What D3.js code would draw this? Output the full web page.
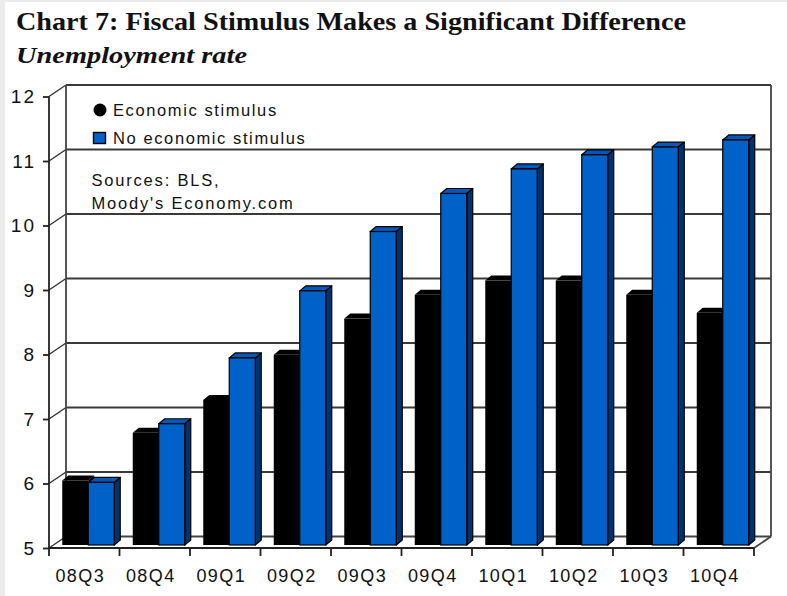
<!DOCTYPE html>
<html>
<head>
<meta charset="utf-8">
<script src="https://cdn.jsdelivr.net/npm/d3@7"></script>
<style>
  body { margin: 0; background: #fff; }
  svg { display: block; }
  .sans { font-family: "Liberation Sans", Arial, sans-serif; fill: #111; }
</style>
</head>
<body>
<svg id="chart" width="787" height="596"></svg>
<script>
// values
var quarters = ["08Q3", "08Q4", "09Q1", "09Q2", "09Q3", "09Q4", "10Q1", "10Q2", "10Q3", "10Q4"];
var withStimulus = [6.0, 6.74, 7.25, 7.95, 8.51, 8.88, 9.1, 9.1, 8.88, 8.6];
var noStimulus = [5.97, 6.88, 7.9, 8.94, 9.86, 10.45, 10.83, 11.05, 11.17, 11.28];
var yTicks = [5, 6, 7, 8, 9, 10, 11, 12];
var seriesNames = ["Economic stimulus", "No economic stimulus"];

var svg = d3.select("#chart");

// depth of the 3d box and of each bar
var depth = { dx: 17, dy: -11.5 },
    barOff = { dx: 4, dy: -3 },
    barDepth = { dx: 6, dy: -5 };

var x = d3.scaleBand().domain(quarters).range([49, 754]).padding(0);
var sub = d3.scaleBand().domain(["stim", "nostim"]).range([0, x.bandwidth()])
  .paddingInner(0).paddingOuter(0.356);
var y = d3.scaleLinear().domain([5, 12]).range([548, 96.5]);

// light frame at the edge of the picture
svg.append("rect").attr("x", 0).attr("y", 0).attr("width", 5).attr("height", 596).attr("fill", "#ebebeb");
svg.append("rect").attr("x", 0).attr("y", 0).attr("width", 787).attr("height", 2).attr("fill", "#ebebeb");

// titles
svg.append("text")
  .attr("x", 16).attr("y", 30)
  .attr("textLength", 670).attr("lengthAdjust", "spacingAndGlyphs")
  .style("font-family", "'Liberation Serif', 'DejaVu Serif', serif")
  .style("font-weight", "bold").style("font-size", "25px").style("fill", "#111")
  .text("Chart 7: Fiscal Stimulus Makes a Significant Difference");
svg.append("text")
  .attr("x", 16).attr("y", 63)
  .attr("textLength", 231).attr("lengthAdjust", "spacingAndGlyphs")
  .style("font-family", "'Liberation Serif', 'DejaVu Serif', serif")
  .style("font-style", "italic").style("font-weight", "bold").style("font-size", "23px").style("fill", "#111")
  .text("Unemployment rate");

var x0 = x.range()[0], x1 = x.range()[1];
var g = svg.append("g");

// back wall gridlines
g.selectAll("line.grid").data(yTicks.slice(1)).enter().append("line")
  .attr("class", "grid")
  .attr("x1", x0 + depth.dx).attr("x2", x1 + depth.dx)
  .attr("y1", function(d) { return y(d) + depth.dy; })
  .attr("y2", function(d) { return y(d) + depth.dy; })
  .attr("stroke", "#3a3a3a")
  .attr("stroke-width", 2);

// side wall lines
g.selectAll("line.side").data(yTicks).enter().append("line")
  .attr("class", "side")
  .attr("x1", x0).attr("x2", x0 + depth.dx)
  .attr("y1", function(d) { return y(d); })
  .attr("y2", function(d) { return y(d) + depth.dy; })
  .attr("stroke", "#333").attr("stroke-width", 1.4);

// box edges
var edges = [
  [x0 + depth.dx, y(12) + depth.dy, x0 + depth.dx, y(5) + depth.dy],
  [x1 + depth.dx, y(12) + depth.dy, x1 + depth.dx, y(5) + depth.dy],
  [x0 + depth.dx, y(5) + depth.dy, x1 + depth.dx, y(5) + depth.dy],
  [x1, y(5), x1 + depth.dx, y(5) + depth.dy]
];
g.selectAll("line.edge").data(edges).enter().append("line")
  .attr("x1", function(d) { return d[0]; }).attr("y1", function(d) { return d[1]; })
  .attr("x2", function(d) { return d[2]; }).attr("y2", function(d) { return d[3]; })
  .attr("stroke", "#444").attr("stroke-width", 1.8);

// bars
var bars = [];
quarters.forEach(function(q, i) {
  bars.push({ q: q, key: "stim", v: withStimulus[i] });
  bars.push({ q: q, key: "nostim", v: noStimulus[i] });
});
var w = sub.bandwidth();
var colors = {
  stim: { front: "#000", top: "#000", side: "#000", stroke: "none" },
  nostim: { front: "#0062c8", top: "#0058b8", side: "#00326e", stroke: "#000" }
};

var barG = g.selectAll("g.bar").data(bars).enter().append("g").attr("class", "bar");
barG.each(function(d) {
  var el = d3.select(this), c = colors[d.key];
  var bx = x(d.q) + sub(d.key) + barOff.dx;
  var yt = y(d.v) + barOff.dy, yb = y(5) + barOff.dy;
  var dx = barDepth.dx, dy = barDepth.dy;
  el.append("polygon")
    .attr("points", [[bx + w, yt], [bx + w + dx, yt + dy], [bx + w + dx, yb + dy], [bx + w, yb]].join(" "))
    .attr("fill", c.side).attr("stroke", c.stroke).attr("stroke-width", 1.2).attr("stroke-linejoin", "round");
  el.append("polygon")
    .attr("points", [[bx, yt], [bx + dx, yt + dy], [bx + w + dx, yt + dy], [bx + w, yt]].join(" "))
    .attr("fill", c.top).attr("stroke", c.stroke).attr("stroke-width", 1.2).attr("stroke-linejoin", "round");
  el.append("rect")
    .attr("x", bx).attr("y", yt).attr("width", w).attr("height", yb - yt)
    .attr("fill", c.front).attr("stroke", c.stroke).attr("stroke-width", 1.2);
});

// front axes
svg.append("line").attr("x1", x0).attr("x2", x0).attr("y1", y(12)).attr("y2", y(5))
  .attr("stroke", "#222").attr("stroke-width", 1.8);
svg.append("line").attr("x1", x0).attr("x2", x1).attr("y1", y(5)).attr("y2", y(5))
  .attr("stroke", "#222").attr("stroke-width", 1.8);

var yAxis = svg.append("g").attr("transform", "translate(" + x0 + ",0)")
  .call(d3.axisLeft(y).tickValues(yTicks).tickFormat(d3.format("d")).tickSize(6).tickPadding(7));
yAxis.select(".domain").remove();
yAxis.selectAll("line").attr("stroke", "#222").attr("stroke-width", 1.8);
yAxis.selectAll("text").attr("class", "sans")
  .style("font-size", "19px").style("letter-spacing", "2px").attr("fill", "#111");

var tickPos = quarters.map(function(q) { return x(q); }).concat([x1]);
svg.selectAll("line.xtick").data(tickPos).enter().append("line")
  .attr("x1", function(d) { return d; }).attr("x2", function(d) { return d; })
  .attr("y1", y(5)).attr("y2", y(5) + 8)
  .attr("stroke", "#222").attr("stroke-width", 1.8);
svg.selectAll("text.xlab").data(quarters).enter().append("text")
  .attr("class", "sans")
  .attr("x", function(d) { return x(d) + x.bandwidth() / 2 - 4; })
  .attr("y", 581.5)
  .attr("text-anchor", "middle")
  .style("font-size", "18px").style("letter-spacing", "1.4px")
  .text(function(d) { return d; });

// legend and note
var legend = svg.append("g");
legend.append("circle").attr("cx", 100).attr("cy", 110).attr("r", 6.5).attr("fill", "#000");
legend.append("rect").attr("x", 93.5).attr("y", 132.5).attr("width", 12).attr("height", 11)
  .attr("fill", colors.nostim.front).attr("stroke", "#000").attr("stroke-width", 1.4);
legend.selectAll("text").data(seriesNames).enter().append("text")
  .attr("class", "sans")
  .attr("x", 113).attr("y", function(d, i) { return 115.5 + i * 28; })
  .style("font-size", "16.5px").style("letter-spacing", "1.6px")
  .text(function(d) { return d; });

var notes = ["Sources: BLS,", "Moody's Economy.com"];
svg.selectAll("text.note").data(notes).enter().append("text")
  .attr("class", "sans")
  .attr("x", 91.5).attr("y", function(d, i) { return 186 + i * 23; })
  .style("font-size", "16.5px").style("letter-spacing", "1.8px")
  .text(function(d) { return d; });
</script>
</body>
</html>
